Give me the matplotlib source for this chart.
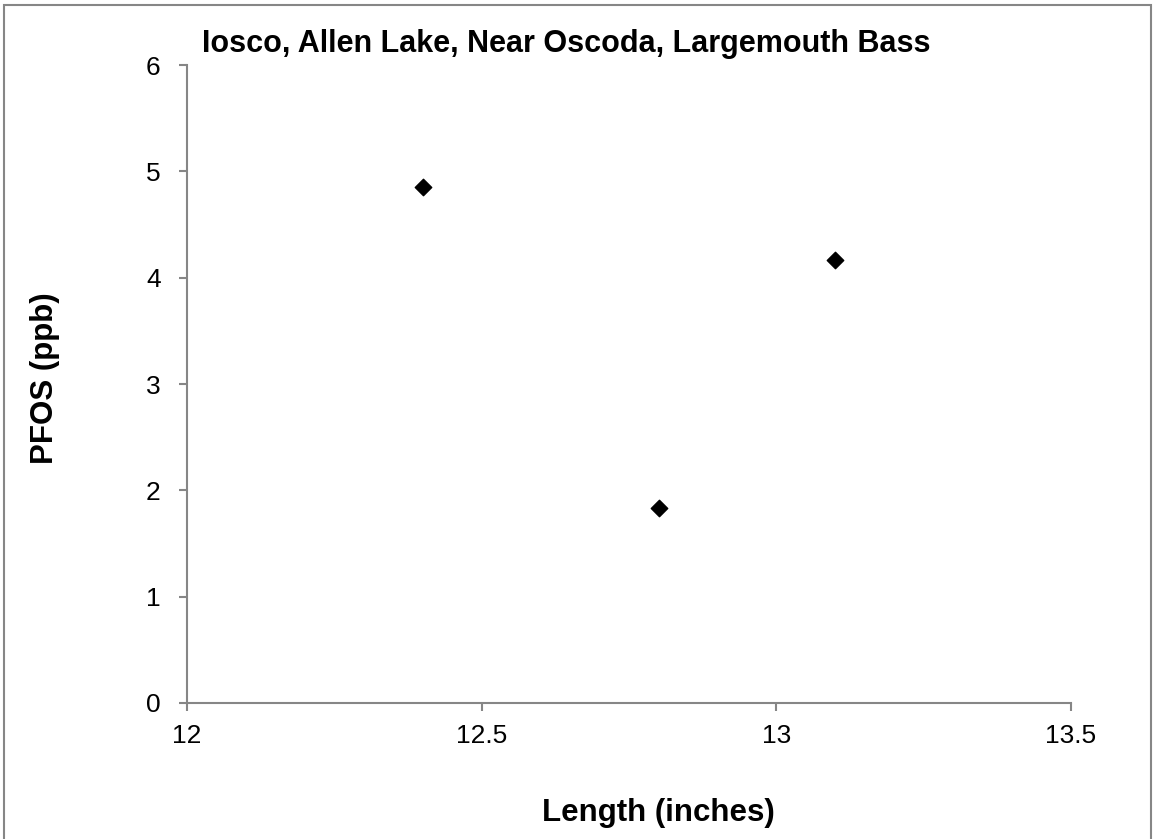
import matplotlib
matplotlib.use("Agg")
import matplotlib.pyplot as plt
from matplotlib.patches import Rectangle

plt.rcParams['font.family'] = ['Liberation Sans', 'DejaVu Sans']

# data
length_in = [12.4, 12.8, 13.1]
pfos_ppb = [4.85, 1.83, 4.17]
x_ticks = [12, 12.5, 13, 13.5]
y_ticks = [0, 1, 2, 3, 4, 5, 6]

fig = plt.figure(figsize=(11.56, 8.39), dpi=100)
ax = fig.add_axes([0.1618, 0.1621, 0.7647, 0.7604])

ax.scatter(length_in, pfos_ppb, marker='D', s=70, color='black', zorder=3)

ax.set_xlim(12, 13.5)
ax.set_ylim(0, 6)
ax.set_xticks(x_ticks)
ax.set_xticklabels(['12', '12.5', '13', '13.5'])
ax.set_yticks(y_ticks)

grey = '#868686'
for side in ['top', 'right']:
    ax.spines[side].set_visible(False)
for side in ['left', 'bottom']:
    ax.spines[side].set_color(grey)
    ax.spines[side].set_linewidth(1.5)
ax.tick_params(direction='out', length=6, width=1.5, color=grey, labelsize=19)
ax.tick_params(axis='x', pad=9)
ax.tick_params(axis='y', pad=13)

fig.text(566 / 1156, 1 - 44 / 839, 'Iosco, Allen Lake, Near Oscoda, Largemouth Bass',
         ha='center', va='center', fontsize=22, fontweight='bold')
fig.text(45 / 1156, 1 - 378 / 839, 'PFOS (ppb)', rotation=90,
         ha='center', va='center', fontsize=22.5, fontweight='bold')
fig.text(658 / 1156, 1 - 813 / 839, 'Length (inches)',
         ha='center', va='center', fontsize=22.5, fontweight='bold')

# outer chart border
fig.patches.append(Rectangle((4 / 1156, -0.01), 1147 / 1156, 1 - 5 / 839 + 0.01,
                             transform=fig.transFigure, fill=False,
                             edgecolor=grey, linewidth=1.5))

fig.savefig('out.png', dpi=100)
